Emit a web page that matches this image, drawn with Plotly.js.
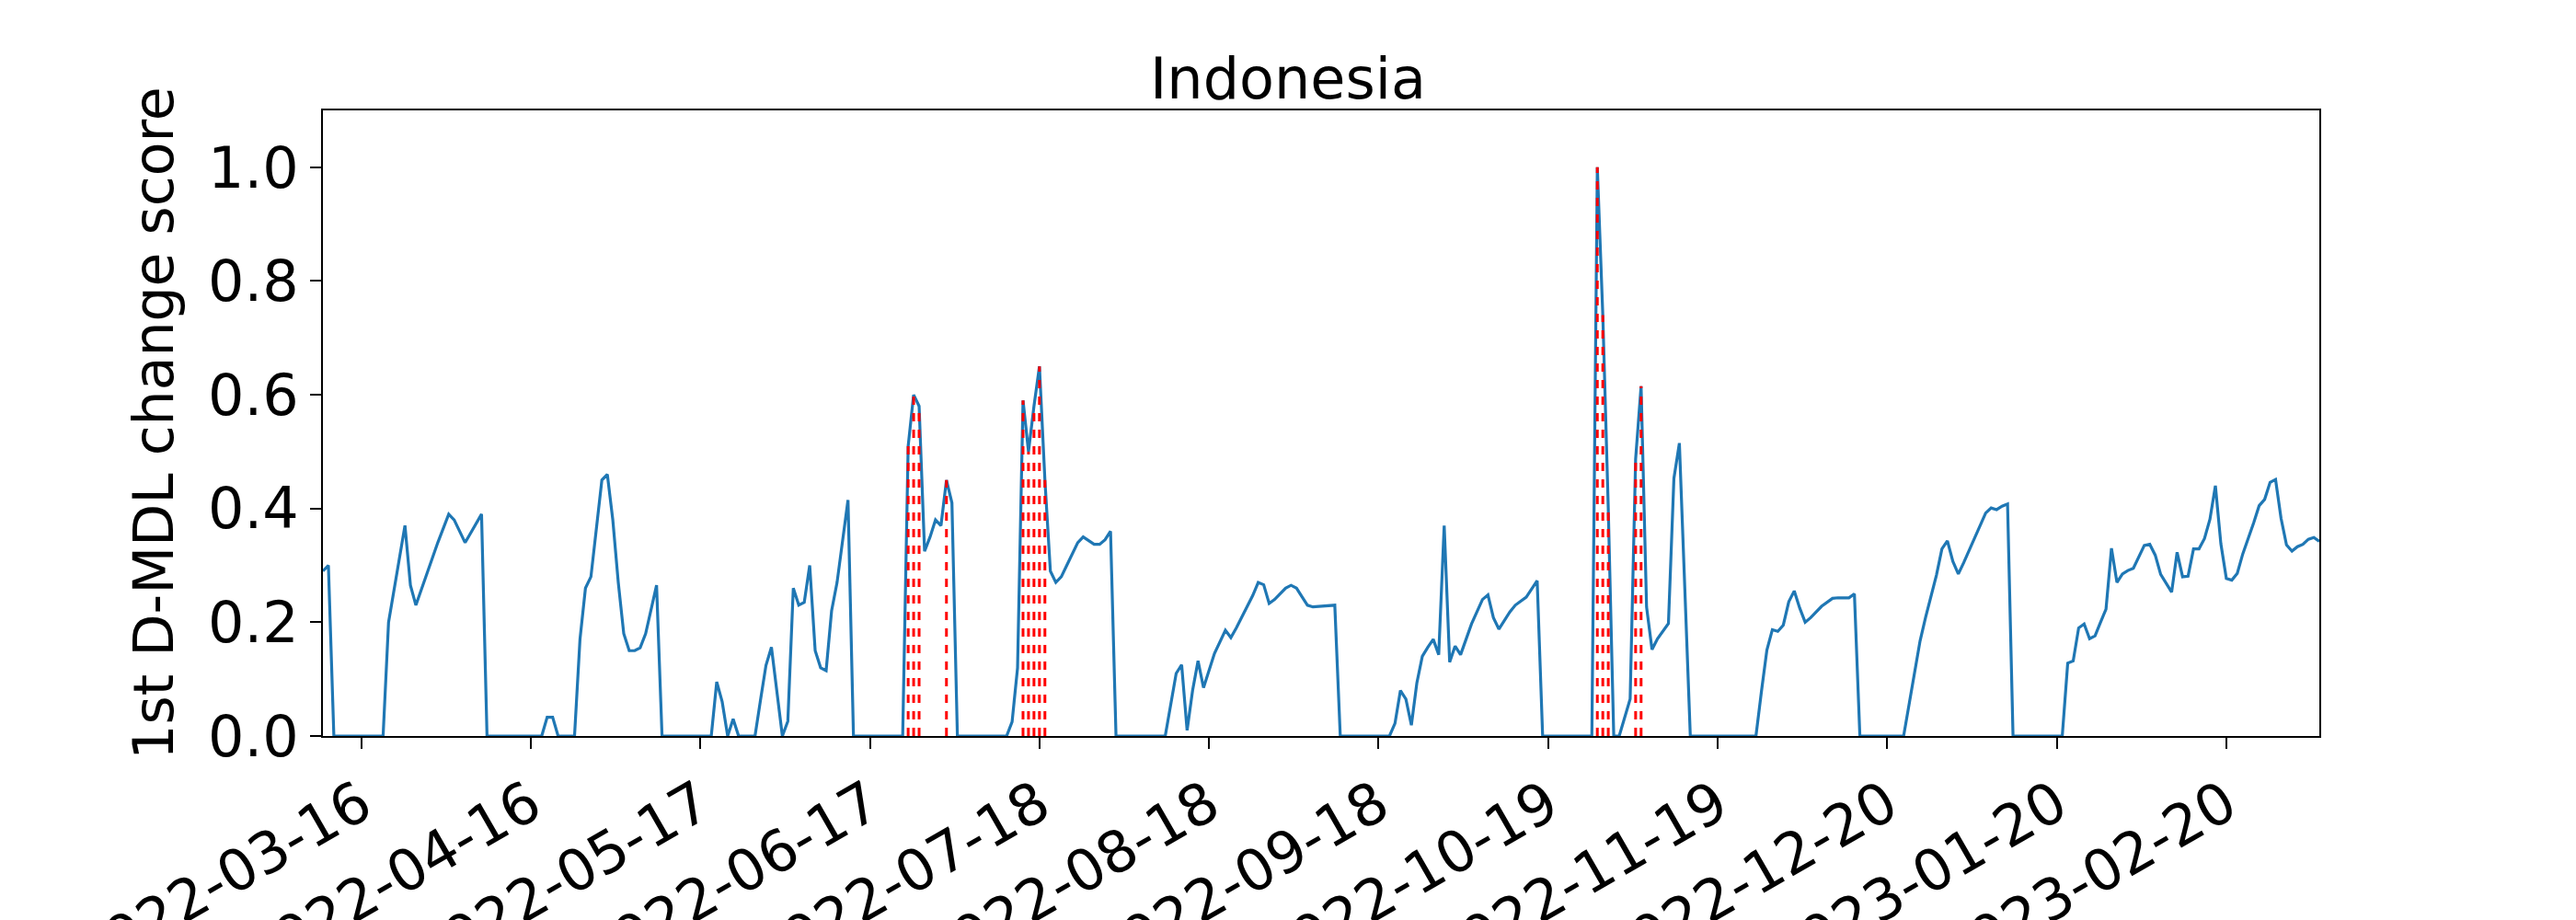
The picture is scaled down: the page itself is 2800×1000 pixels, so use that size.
<!DOCTYPE html>
<html>
<head>
<meta charset="utf-8">
<script src="https://cdn.plot.ly/plotly-3.0.1.min.js"></script>
<style>html,body{margin:0;padding:0;background:#fff}</style>
</head>
<body>
<div id="chart" style="width:2800px;height:1000px"></div>
<script>
// day offsets from the first date and the score at each vertex of the line
const startDate = "2022-03-09";
const dayIdx = [0,1,2,11,12,15,16,17,21,23,24,26,29,30,40,41,42,43,46,47,48,49,51,52,53,54,55,56,57,58,59,61,62,
  71,72,73,74,75,76,79,80,81,82,83,84,85,86,87,88,89,90,91,92,93,94,96,97,106,107,108,109,110,111,112,113,114,115,116,
  125,126,127,128,129,130,131,132,133,134,135,136,138,139,141,142,143,144,145,154,156,157,158,159,160,161,163,165,166,
  167,168,169,170,171,172,173,174,176,177,178,179,180,181,183,185,186,195,196,197,198,199,200,201,202,203,204,205,206,
  207,208,210,212,213,214,215,217,218,220,222,223,232,233,234,235,236,237,238,239,240,241,242,243,244,246,247,248,250,
  262,263,264,265,266,267,268,269,270,271,272,274,276,277,279,280,281,289,291,292,293,294,295,296,297,298,299,300,301,
  302,303,304,305,306,307,308,309,318,319,320,321,322,323,324,325,326,327,328,329,330,331,332,333,334,335,336,337,338,
  339,340,341,342,343,344,345,346,347,348,349,350,351,352,353,354,355,356,357,358,359,360,361,362,363,364,365];
const score = [0.29,0.30,0,0,0.20,0.37,0.265,0.23,0.34,0.39,0.38,0.34,0.39,0,0,0.033,0.033,0,0,0.17,0.26,0.28,0.45,0.46,0.38,0.27,0.18,0.15,0.15,0.155,0.18,0.265,0,
  0,0.095,0.06,0,0.03,0,0,0.063,0.124,0.156,0.078,0,0.026,0.26,0.23,0.235,0.30,0.15,0.12,0.115,0.22,0.27,0.415,0,0,0.51,0.60,0.58,0.325,0.35,0.38,0.37,0.45,0.41,0,
  0,0.025,0.12,0.59,0.50,0.58,0.65,0.45,0.29,0.27,0.28,0.30,0.34,0.35,0.337,0.337,0.345,0.36,0,0,0.11,0.125,0.01,0.08,0.132,0.085,0.145,0.186,0.173,
  0.19,0.21,0.228,0.247,0.27,0.266,0.233,0.24,0.26,0.265,0.26,0.245,0.23,0.227,0.228,0.23,0,0,0.022,0.08,0.065,0.019,0.093,0.14,0.156,0.17,0.143,0.37,0.13,
  0.158,0.143,0.197,0.24,0.248,0.208,0.188,0.218,0.23,0.244,0.273,0,0,1.0,0.74,0.40,0,0,0.033,0.065,0.487,0.615,0.227,0.152,0.171,0.198,0.453,0.515,0,
  0,0.078,0.151,0.187,0.184,0.195,0.236,0.255,0.225,0.20,0.208,0.228,0.242,0.243,0.243,0.25,0,0,0.114,0.167,0.208,0.245,0.283,0.329,0.343,0.307,0.285,0.305,0.327,
  0.35,0.372,0.392,0.401,0.398,0.404,0.408,0,0,0.128,0.132,0.19,0.197,0.171,0.176,0.20,0.223,0.33,0.27,0.285,0.291,0.295,0.316,0.335,0.337,0.318,0.284,0.269,0.253,
  0.323,0.28,0.281,0.329,0.329,0.347,0.381,0.44,0.338,0.277,0.274,0.286,0.32,0.346,0.375,0.405,0.416,0.446,0.451,0.383,0.336,0.325,0.333,0.337,0.346,0.349,0.342];
// days flagged as change points (red dashed lines)
const alarmDays = [107,108,109,114,128,129,130,131,132,233,234,235,240,241];
const tickLabels = ["2022-03-16","2022-04-16","2022-05-17","2022-06-17","2022-07-18","2022-08-18",
  "2022-09-18","2022-10-19","2022-11-19","2022-12-20","2023-01-20","2023-02-20"];

const toDate = d => {
  const t = new Date(startDate + "T00:00:00Z");
  t.setUTCDate(t.getUTCDate() + d);
  return t.toISOString().slice(0, 10);
};
const xs = dayIdx.map(toDate);

const shapes = alarmDays.map(d => ({
  type: "line", xref: "x", yref: "y",
  x0: toDate(d), x1: toDate(d), y0: 0, y1: score[dayIdx.indexOf(d)],
  line: {color: "red", width: 3, dash: "dash"}
}));

const font = "DejaVu Sans, sans-serif";
Plotly.newPlot("chart", [{
  x: xs, y: score, type: "scatter", mode: "lines",
  line: {color: "#1f77b4", width: 3.2}, hoverinfo: "skip"
}], {
  width: 2800, height: 1000,
  margin: {l: 351, r: 279, t: 120, b: 200},
  paper_bgcolor: "#fff", plot_bgcolor: "#fff",
  showlegend: false,
  title: {text: "Indonesia", font: {family: font, size: 62, color: "#000"}, x: 0.5, xanchor: "center", y: 0.915, yanchor: "middle"},
  xaxis: {
    type: "date", range: [toDate(0), toDate(365)],
    tickmode: "array", tickvals: tickLabels, ticktext: tickLabels, tickangle: -30,
    tickfont: {family: font, size: 62, color: "#000"},
    ticks: "outside", ticklen: 12, tickwidth: 2, tickcolor: "#000",
    showgrid: false, zeroline: false,
    showline: true, linecolor: "#000", linewidth: 2, mirror: true
  },
  yaxis: {
    range: [0, 1.1], tickvals: [0, 0.2, 0.4, 0.6, 0.8, 1.0], tickformat: ".1f",
    tickfont: {family: font, size: 62, color: "#000"},
    ticks: "outside", ticklen: 12, tickwidth: 2, tickcolor: "#000",
    showgrid: false, zeroline: false,
    showline: true, linecolor: "#000", linewidth: 2, mirror: true,
    title: {text: "1st D-MDL change score", font: {family: font, size: 60, color: "#000"}, standoff: 18}
  },
  shapes: shapes
}, {staticPlot: true});
</script>
</body>
</html>
